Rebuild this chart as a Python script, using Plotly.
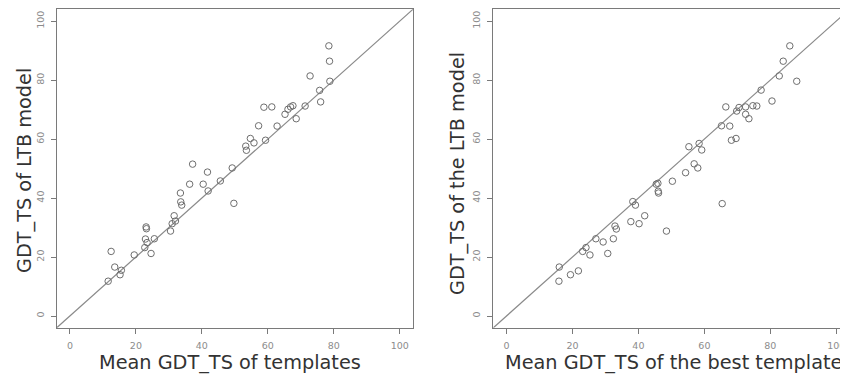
import plotly.graph_objects as go

# Left panel: mean GDT_TS of templates vs GDT_TS of LTB model
mean_tmpl = [11.6, 12.5, 13.6, 15.2, 15.6, 19.5, 22.7, 22.9, 23.1, 23.2, 23.4, 24.6, 25.6,
             30.5, 31.0, 31.6, 32.0, 33.6, 33.5, 33.9, 36.3, 37.2, 40.4, 41.7, 41.9, 45.6,
             49.2, 49.7, 53.3, 53.5, 54.7, 55.8, 57.2, 58.8, 59.3, 61.2, 62.8, 65.2, 66.1,
             66.9, 67.6, 68.6, 71.3, 72.8, 75.7, 76.0, 78.5, 78.7, 78.8]
ltb_left = [11.8, 21.9, 16.6, 14.0, 15.5, 20.7, 23.2, 26.1, 30.2, 29.6, 24.9, 21.2, 26.2,
            28.8, 31.3, 34.0, 32.2, 38.7, 41.7, 37.6, 44.7, 51.5, 44.7, 48.8, 42.4, 45.8,
            50.2, 38.2, 57.6, 56.2, 60.2, 58.7, 64.5, 70.8, 59.6, 70.9, 64.4, 68.4, 70.1,
            70.9, 71.3, 66.9, 71.2, 81.4, 76.5, 72.6, 91.6, 86.4, 79.6]

# Right panel: GDT_TS of the best template vs GDT_TS of LTB model
best_tmpl = [15.9, 16.0, 19.4, 21.8, 23.1, 24.1, 25.3, 27.1, 29.3, 30.7, 32.4, 32.9, 33.3,
             37.7, 38.3, 39.1, 40.2, 41.9, 45.4, 45.9, 46.0, 46.1, 48.5, 50.3, 54.3, 55.3,
             56.9, 58.0, 58.4, 59.2, 65.2, 65.4, 66.5, 67.7, 68.2, 69.6, 69.8, 70.5, 72.5,
             72.5, 73.5, 74.7, 75.9, 77.2, 80.5, 82.7, 83.9, 85.9, 88.0]
ltb_right = [11.8, 16.6, 14.0, 15.3, 21.9, 23.2, 20.7, 26.2, 25.1, 21.2, 26.2, 30.5, 29.5,
             32.0, 38.8, 37.6, 31.3, 34.0, 44.7, 45.0, 42.3, 41.7, 28.8, 45.7, 48.6, 57.4,
             51.6, 50.2, 58.5, 56.3, 64.5, 38.1, 70.9, 64.4, 59.6, 60.2, 69.5, 70.7, 70.9,
             68.4, 66.9, 71.3, 71.2, 76.6, 72.9, 81.4, 86.4, 91.6, 79.6]

tick_vals = [0, 20, 40, 60, 80, 100]
tick_text = ["0", "20", "40", "60", "80", "100"]
diag = [-10, 110]

xtitles = ["Mean GDT_TS of templates", "Mean GDT_TS of the best template"]
ytitles = ["GDT_TS of LTB model", "GDT_TS of the LTB model"]

W, H = 848, 378
OFF = 8  # page body margin offset
FONT = "DejaVu Sans"
LINE = "#7a7a7a"
PT = "#6e6e6e"


def sx(px):
    return (px - OFF) / W


def sy(py):
    return 1 - (py - OFF) / H


fig = go.Figure()

panels = [(mean_tmpl, ltb_left, "x", "y"), (best_tmpl, ltb_right, "x2", "y2")]
for xs, ys, xa, ya in panels:
    fig.add_trace(go.Scatter(x=diag, y=diag, mode="lines", xaxis=xa, yaxis=ya,
                             line=dict(color="#8a8a8a", width=1.2), hoverinfo="skip",
                             showlegend=False))
    fig.add_trace(go.Scatter(x=xs, y=ys, mode="markers", xaxis=xa, yaxis=ya,
                             marker=dict(symbol="circle-open", size=6.5,
                                         line=dict(color=PT, width=1), color=PT),
                             showlegend=False))

ydom = [sy(327.8), sy(9.3)]
xdom1 = [sx(56.7), sx(413.0)]
xdom2 = [sx(493.3), sx(849.5)]

axis_common = dict(range=[-4, 104], tickvals=tick_vals, ticktext=tick_text,
                   showgrid=False, zeroline=False, showline=True, mirror=True,
                   linecolor=LINE, linewidth=1.3, ticks="outside", ticklen=5,
                   tickcolor=LINE, tickwidth=1,
                   tickfont=dict(family=FONT, size=9.5, color="#8c8c8c"))

fig.update_layout(
    width=W, height=H,
    margin=dict(l=0, r=0, t=0, b=0),
    paper_bgcolor="white", plot_bgcolor="white",
    xaxis=dict(domain=xdom1, anchor="y", ticklabelstandoff=4, **axis_common),
    yaxis=dict(domain=ydom, anchor="x", tickangle=-90, ticklabelstandoff=3, **axis_common),
    xaxis2=dict(domain=xdom2, anchor="y2", ticklabelstandoff=4, **axis_common),
    yaxis2=dict(domain=ydom, anchor="x2", tickangle=-90, ticklabelstandoff=3, **axis_common),
)

ann = []
xcent = [230.0, 673.0]
ycent_x = [25.0, 457.0]
ycent_y = [171.0, 173.0]
for i in range(2):
    ann.append(dict(text=xtitles[i], x=sx(xcent[i]), y=sy(362.0), xref="paper", yref="paper",
                    showarrow=False, xanchor="center", yanchor="middle",
                    font=dict(family=FONT, size=19.3, color="#333333")))
    ann.append(dict(text=ytitles[i], x=sx(ycent_x[i]), y=sy(ycent_y[i]), xref="paper", yref="paper",
                    showarrow=False, xanchor="center", yanchor="middle", textangle=-90,
                    font=dict(family=FONT, size=19.3, color="#333333")))
fig.update_layout(annotations=ann)

fig.write_html("out.html")
